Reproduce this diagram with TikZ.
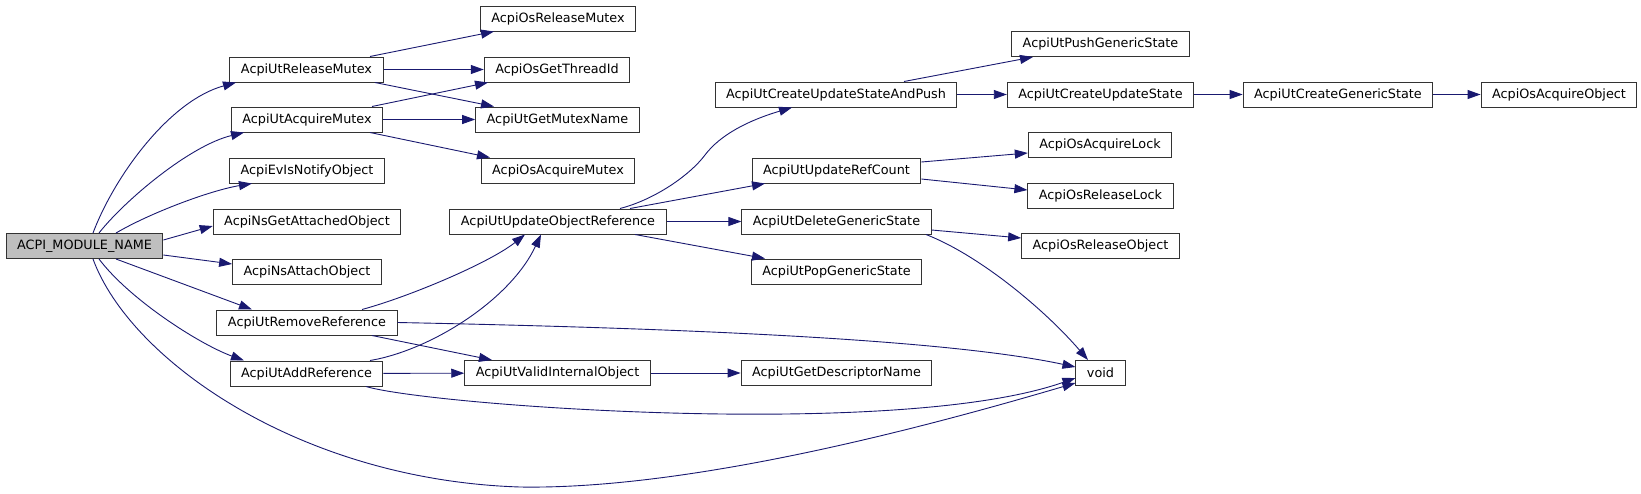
\documentclass[tikz,border=0pt]{standalone}
\usepackage{fontspec}
\setmainfont{DejaVu Sans}
\usepackage{tikz}
\usetikzlibrary{arrows.meta,calc}
\definecolor{edgeblue}{HTML}{191970}
\definecolor{rootgray}{HTML}{BFBFBF}

\begin{document}
\begin{tikzpicture}[
  x=1pt, y=-1pt,
  font=\fontsize{12.8}{15}\selectfont,
  >={Triangle[length=13pt, width=9pt]},
  fn/.style={draw=black!80, line width=1pt, fill=white, minimum height=25pt,
             inner xsep=11pt, inner ysep=0pt},
  root/.style={fn, fill=rootgray},
  call/.style={->, edgeblue, line width=0.9pt}
]
\useasboundingbox (0,0) rectangle (1641,493);

% ---------- caller ----------
\node[root] (mod) at (84.5,246) {ACPI\_MODULE\_NAME};

% ---------- first level ----------
\node[fn] (utrelm)   at (306.5,69.5) {AcpiUtReleaseMutex};
\node[fn] (utacqm)   at (307,119.5)  {AcpiUtAcquireMutex};
\node[fn] (evnotify) at (307,170.5)  {AcpiEvIsNotifyObject};
\node[fn] (nsgetatt) at (307,221.5)  {AcpiNsGetAttachedObject};
\node[fn] (nsatt)    at (307,271.5)  {AcpiNsAttachObject};
\node[fn] (utremref) at (307,322.5)  {AcpiUtRemoveReference};
\node[fn] (utaddref) at (306.5,373.5) {AcpiUtAddReference};

% ---------- second level ----------
\node[fn] (osrelm)      at (558,18.5)   {AcpiOsReleaseMutex};
\node[fn] (osthread)    at (557,69.5)   {AcpiOsGetThreadId};
\node[fn] (utmutexname) at (557.5,119.5) {AcpiUtGetMutexName};
\node[fn] (osacqm)      at (558,170.5)  {AcpiOsAcquireMutex};
\node[fn] (utupdobj)    at (558,221.5)  {AcpiUtUpdateObjectReference};
\node[fn] (utvalid)     at (557.5,373)  {AcpiUtValidInternalObject};

% ---------- third level ----------
\node[fn] (utcusap)    at (836,94.5)    {AcpiUtCreateUpdateStateAndPush};
\node[fn] (utupdref)   at (836.5,170.5) {AcpiUtUpdateRefCount};
\node[fn] (utdelgs)    at (836.5,221.5) {AcpiUtDeleteGenericState};
\node[fn] (utpopgs)    at (836.5,271.5) {AcpiUtPopGenericState};
\node[fn] (utdescname) at (836.5,373)   {AcpiUtGetDescriptorName};

% ---------- fourth level and beyond ----------
\node[fn] (utpushgs)  at (1100.5,44)    {AcpiUtPushGenericState};
\node[fn] (utcus)     at (1100.5,94.5)  {AcpiUtCreateUpdateState};
\node[fn] (osacqlock) at (1100,145)     {AcpiOsAcquireLock};
\node[fn] (osrellock) at (1100.5,195.5) {AcpiOsReleaseLock};
\node[fn] (osrelobj)  at (1100.5,246)   {AcpiOsReleaseObject};
\node[fn] (void)      at (1100.5,373)   {void};
\node[fn] (utcgs)     at (1338,94.5)    {AcpiUtCreateGenericState};
\node[fn] (osacqobj)  at (1559,94.5)    {AcpiOsAcquireObject};

% ---------- calls from the caller ----------
\draw[call] ($(mod.north)+(8.5,0)$) .. controls +(22,-58) and +(-66,18) .. ($(utrelm.south)+(-70.5,0)$);
\draw[call] ($(mod.north)+(14.5,0)$) .. controls +(26,-33) and +(-54,13) .. ($(utacqm.south)+(-63,0)$);
\draw[call] ($(mod.north)+(31.5,0)$) .. controls +(34,-20) and +(-42,7) .. ($(evnotify.south)+(-55,0)$);
\draw[call] ($(mod.east)+(0,-6)$) -- ($(nsgetatt.west)+(0,4.5)$);
\draw[call] ($(mod.east)+(0,9)$) -- ($(nsatt.west)+(0,-7.5)$);
\draw[call] ($(mod.south)+(31.5,0)$) -- ($(utremref.north)+(-55,0)$);
\draw[call] ($(mod.south)+(14.5,0)$) .. controls +(31,41) and +(-44,-16) .. ($(utaddref.north)+(-62.5,0)$);
\draw[call] ($(mod.south)+(8.5,0)$) .. controls +(37,101) and +(-220,-7) .. (520,487)
      .. controls +(180,3) and +(-126,37) .. ($(void.west)+(0,10)$);

% ---------- mutex helpers ----------
\draw[call] ($(utrelm.north)+(63.5,0)$) -- ($(osrelm.south)+(-64,0)$);
\draw[call] (utrelm) -- (osthread);
\draw[call] ($(utrelm.south)+(68.5,0)$) -- ($(utmutexname.north)+(-63.5,0)$);
\draw[call] ($(utacqm.north)+(65,0)$) -- ($(osthread.south)+(-69,0)$);
\draw[call] (utacqm) -- (utmutexname);
\draw[call] ($(utacqm.south)+(63,0)$) -- ($(osacqm.north)+(-68,0)$);

% ---------- reference counting ----------
\draw[call] ($(utremref.north)+(55,0)$) .. controls +(48,-13) and +(-35,28) .. ($(utupdobj.south)+(-33,0)$);
\draw[call] ($(utaddref.north)+(63.5,0)$) .. controls +(60,-10) and +(-31,66) .. ($(utupdobj.south)+(-17,0)$);
\draw[call] ($(utremref.south)+(65,0)$) -- ($(utvalid.north)+(-65.5,0)$);
\draw[call] (utaddref) -- (utvalid);
\draw[call] (utremref.east) .. controls +(301,6) and +(-126,-27) .. ($(void.west)+(0,-6)$);
\draw[call] ($(utaddref.south)+(59.5,0)$) .. controls +(64,19) and +(-176,62) .. ($(void.west)+(0,5)$);
\draw[call] (utvalid) -- (utdescname);

% ---------- object reference update ----------
\draw[call] ($(utupdobj.north)+(62,0)$) .. controls +(35,-9) and +(-15,20) .. (705,155)
      .. controls +(15,-20) and +(-44,13) .. ($(utcusap.south)+(-44,0)$);
\draw[call] ($(utupdobj.north)+(72,0)$) -- ($(utupdref.south)+(-71.5,0)$);
\draw[call] (utupdobj) -- (utdelgs);
\draw[call] ($(utupdobj.south)+(77,0)$) -- ($(utpopgs.north)+(-71.5,0)$);

\draw[call] ($(utcusap.north)+(68,0)$) -- ($(utpushgs.south)+(-67.5,0)$);
\draw[call] (utcusap) -- (utcus);
\draw[call] (utcus) -- (utcgs);
\draw[call] (utcgs) -- (osacqobj);

\draw[call] ($(utupdref.east)+(0,-8.5)$) -- ($(osacqlock.west)+(0,8)$);
\draw[call] ($(utupdref.east)+(0,8.5)$) -- ($(osrellock.west)+(0,-5.5)$);
\draw[call] ($(utdelgs.east)+(0,8.5)$) -- ($(osrelobj.west)+(0,-8)$);
\draw[call] ($(utdelgs.south)+(89.5,0)$) .. controls +(54,21) and +(-43,-50) .. ($(void.north)+(-12.5,0)$);

\end{tikzpicture}
\end{document}
